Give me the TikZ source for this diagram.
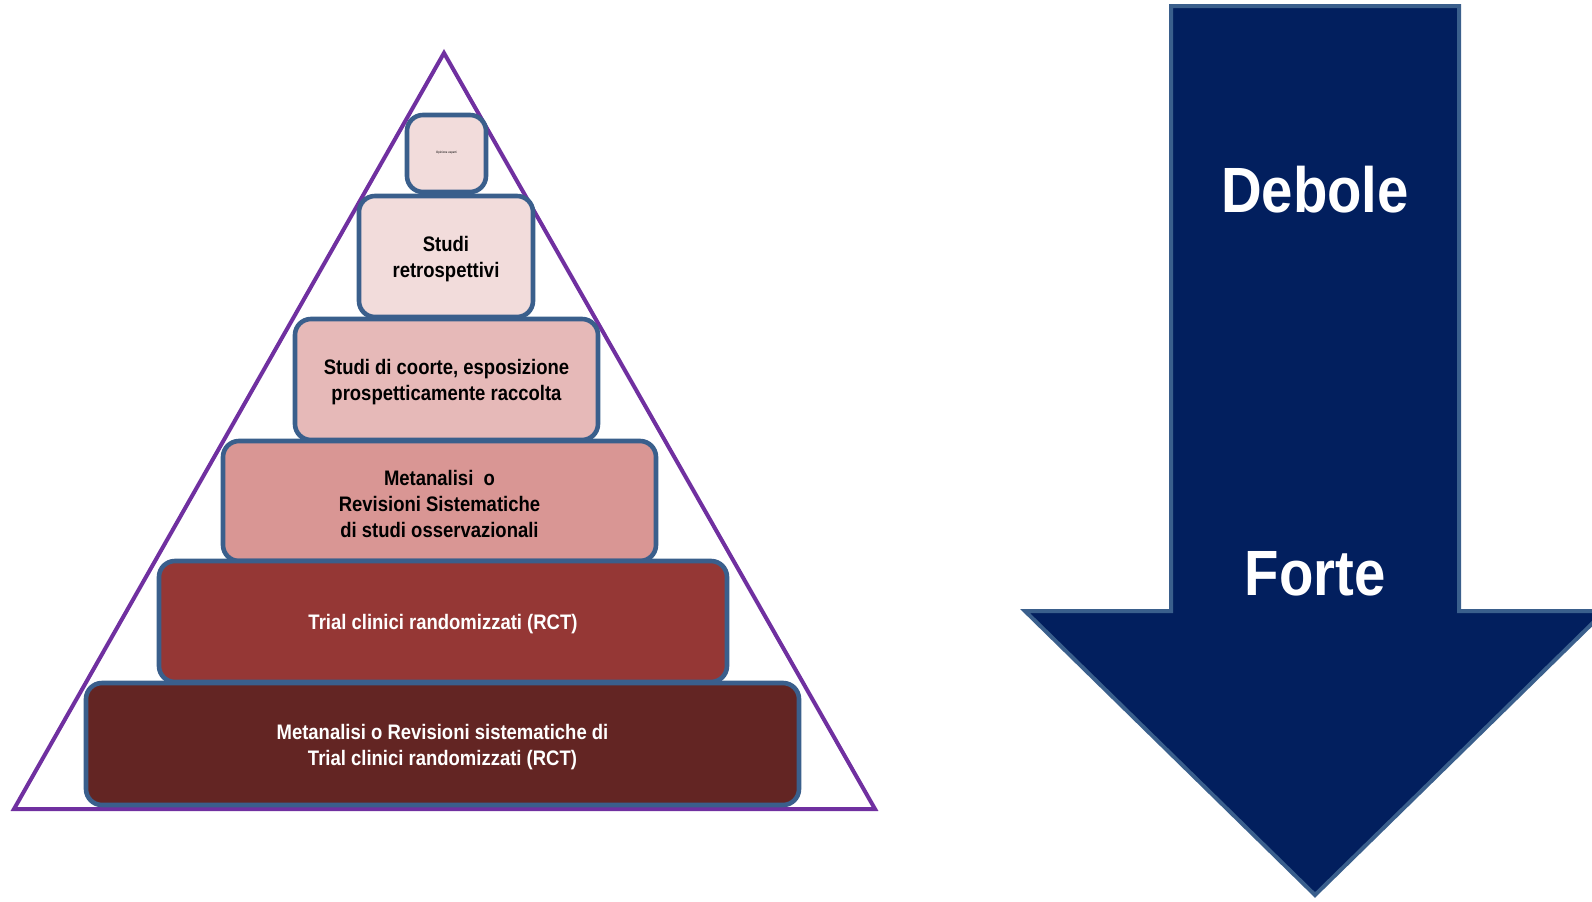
\documentclass[tikz,border=0pt]{standalone}
\usepackage{fontspec}
\setmainfont{Liberation Sans}[FakeStretch=0.88]
\definecolor{tri}{HTML}{7030A0}
\definecolor{edge}{HTML}{3A5F8C}
\definecolor{c1}{HTML}{F2DCDB}
\definecolor{c3}{HTML}{E6B9B8}
\definecolor{c4}{HTML}{D99694}
\definecolor{c5}{HTML}{953735}
\definecolor{c6}{HTML}{632523}
\definecolor{navy}{HTML}{021F5E}
\tikzset{
  box/.style={draw=edge, line width=2.3pt, rounded corners=8pt, inner sep=0pt},
  lbl/.style={align=center, font=\bfseries\fontsize{10.5}{13}\selectfont, inner sep=0pt},
  big/.style={text=white, font=\bfseries\fontsize{32}{38}\selectfont}
}
\begin{document}
\begin{tikzpicture}[x=0.5pt,y=-0.5pt]
\useasboundingbox (0,0) rectangle (1592,901);
\begin{scope}
\clip (0,0) rectangle (1592,901);
% arrow
\coordinate (a1) at (1171,6);
\coordinate (a2) at (1459,6);
\coordinate (a3) at (1459,611);
\coordinate (a4) at (1605,611);
\coordinate (a5) at (1315,895);
\coordinate (a6) at (1025,611);
\coordinate (a7) at (1171,611);
\draw[fill=navy, draw=edge, line width=2pt] (a1) -- (a2) -- (a3) -- (a4) -- (a5) -- (a6) -- (a7) -- cycle;
\end{scope}
\node[big] (deb) at (1315,190) {Debole};
\node[big] (for) at (1315,574) {Forte};
% triangle
\coordinate (t1) at (444,53);
\coordinate (t2) at (875,809);
\coordinate (t3) at (14,809);
\draw[tri, line width=2pt, line join=miter] (t1) -- (t2) -- (t3) -- cycle;
% boxes
\node[box, fill=c1, minimum width=39.5pt, minimum height=38.5pt] (b1) at (446.5,153.5) {};
\node[box, fill=c1, minimum width=87pt, minimum height=60.5pt] (b2) at (446,256.5) {};
\node[box, fill=c3, minimum width=151.5pt, minimum height=60.5pt] (b3) at (446.5,379.5) {};
\node[box, fill=c4, minimum width=216.5pt, minimum height=60pt] (b4) at (439.5,501) {};
\node[box, fill=c5, minimum width=284pt, minimum height=60.5pt] (b5) at (443,621.5) {};
\node[box, fill=c6, minimum width=356.5pt, minimum height=61pt] (b6) at (442.5,744) {};
% labels
\node[lbl, font=\fontsize{1.6}{2}\selectfont] (l1) at ([yshift=0.3pt]b1.center) {Opinione esperti};
\node[lbl] (l2) at ([yshift=-1.5pt]b2.center) {Studi\\retrospettivi};
\node[lbl] (l3) at ([yshift=-1.5pt]b3.center) {Studi di coorte, esposizione\\prospetticamente raccolta};
\node[lbl] (l4) at ([yshift=-1.5pt]b4.center) {Metanalisi\ \ o\\Revisioni Sistematiche\\di studi osservazionali};
\node[lbl, text=white] (l5) at ([yshift=-1.5pt]b5.center) {Trial clinici randomizzati (RCT)};
\node[lbl, text=white] (l6) at ([yshift=-1.5pt]b6.center) {Metanalisi o Revisioni sistematiche di\\Trial clinici randomizzati (RCT)};
\end{tikzpicture}
\end{document}
